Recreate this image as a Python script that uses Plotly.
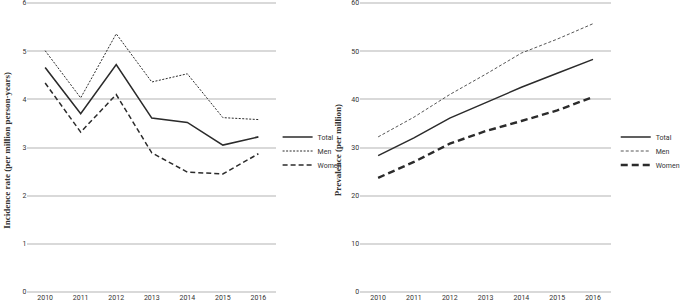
import plotly.graph_objects as go

years = ["2010", "2011", "2012", "2013", "2014", "2015", "2016"]

inc_total = [4.66, 3.70, 4.72, 3.61, 3.52, 3.05, 3.22]
inc_men = [5.01, 4.03, 5.36, 4.36, 4.53, 3.62, 3.58]
inc_women = [4.34, 3.32, 4.10, 2.89, 2.49, 2.45, 2.87]

prev_total = [28.3, 32.0, 36.1, 39.3, 42.5, 45.4, 48.3]
prev_men = [32.2, 36.3, 41.0, 45.2, 49.6, 52.5, 55.7]
prev_women = [23.7, 27.0, 30.8, 33.4, 35.5, 37.7, 40.5]

series_names = ["Total", "Men", "Women"]

W, H = 685, 303
TOP, BOT = 1, 11
PH = H - TOP - BOT
Y0_PIX, YMAX_PIX = 292, 3  # pixel rows of y=0 and top tick
top_factor = (Y0_PIX - TOP) / (Y0_PIX - YMAX_PIX)


def py(pixel_y):
    return (H - BOT - pixel_y) / PH


fig = go.Figure()

tickfont = dict(family="Liberation Sans Narrow, Roboto, Arial", size=7, color="#333")
dark = "#2b2b2b"

left_styles = [
    dict(color=dark, width=1.6, dash="solid"),
    dict(color=dark, width=1.0, dash="2px,1.5px"),
    dict(color=dark, width=1.5, dash="5px,3px"),
]
right_styles = [
    dict(color=dark, width=1.5, dash="solid"),
    dict(color=dark, width=0.8, dash="3px,2px"),
    dict(color=dark, width=2.4, dash="7px,4px"),
]
legend_rows = [137, 151, 165]

legfont = dict(family="Liberation Sans Narrow, Roboto, Arial", size=7, color="#333")
legends = {}
k = 1
for panel, (series, styles, lx, xa, ya) in enumerate([
    ([inc_total, inc_men, inc_women], left_styles, 289, "x", "y"),
    ([prev_total, prev_men, prev_women], right_styles, 641, "x2", "y2"),
]):
    for name, vals, st, row in zip(series_names, series, styles, legend_rows):
        lname = "legend" if k == 1 else f"legend{k}"
        fig.add_trace(go.Scatter(x=years, y=vals, name=name, mode="lines", line=st,
                                 xaxis=xa, yaxis=ya, legend=lname, showlegend=True))
        legends[lname] = dict(x=lx / W, y=py(row), xref="paper", yref="paper",
                              xanchor="left", yanchor="middle", font=legfont,
                              itemwidth=30, bgcolor="rgba(0,0,0,0)",
                              borderwidth=0, visible=True)
        k += 1

grid = "#d9d9d9"
axis_common = dict(showline=False, ticks="", tickfont=tickfont, fixedrange=True,
                   automargin=False, ticklabeloverflow="allow")
titlefont = dict(family="Liberation Serif, DejaVu Serif, serif", size=9, color="#333")

fig.update_layout(
    width=W, height=H,
    showlegend=True,
    margin=dict(l=0, r=0, t=TOP, b=BOT),
    paper_bgcolor="white", plot_bgcolor="white",
    xaxis=dict(domain=[28.5 / W, 287.5 / W], anchor="y", showgrid=False,
               zeroline=False, range=[-0.5, 6.5], **axis_common),
    yaxis=dict(domain=[0, 1], anchor="x", range=[0, 6 * top_factor], dtick=1,
               showgrid=True, gridcolor=grid, gridwidth=1.5, zeroline=True,
               zerolinecolor=grid, zerolinewidth=1.5, **axis_common),
    xaxis2=dict(domain=[375 / W, 636 / W], anchor="y2", showgrid=False,
                zeroline=False, range=[-0.5, 6.5], **axis_common),
    yaxis2=dict(domain=[0, 1], anchor="x2", range=[0, 60 * top_factor], dtick=10,
                showgrid=True, gridcolor=grid, gridwidth=1.5, zeroline=True,
                zerolinecolor=grid, zerolinewidth=1.5, **axis_common),
    annotations=[
        dict(text="<b>Incidence rate (per million person-years)</b>", textangle=-90,
             x=7 / W, y=py(150), xref="paper", yref="paper", showarrow=False,
             xanchor="center", yanchor="middle", font=titlefont),
        dict(text="<b>Prevalence (per million)</b>", textangle=-90,
             x=352 / W, y=py(150), xref="paper", yref="paper", showarrow=False,
             xanchor="center", yanchor="middle", font=titlefont),
    ],
    **legends,
)

fig.write_html("out.html", config={"displayModeBar": False},
               post_script="document.body.style.margin='0px';")
